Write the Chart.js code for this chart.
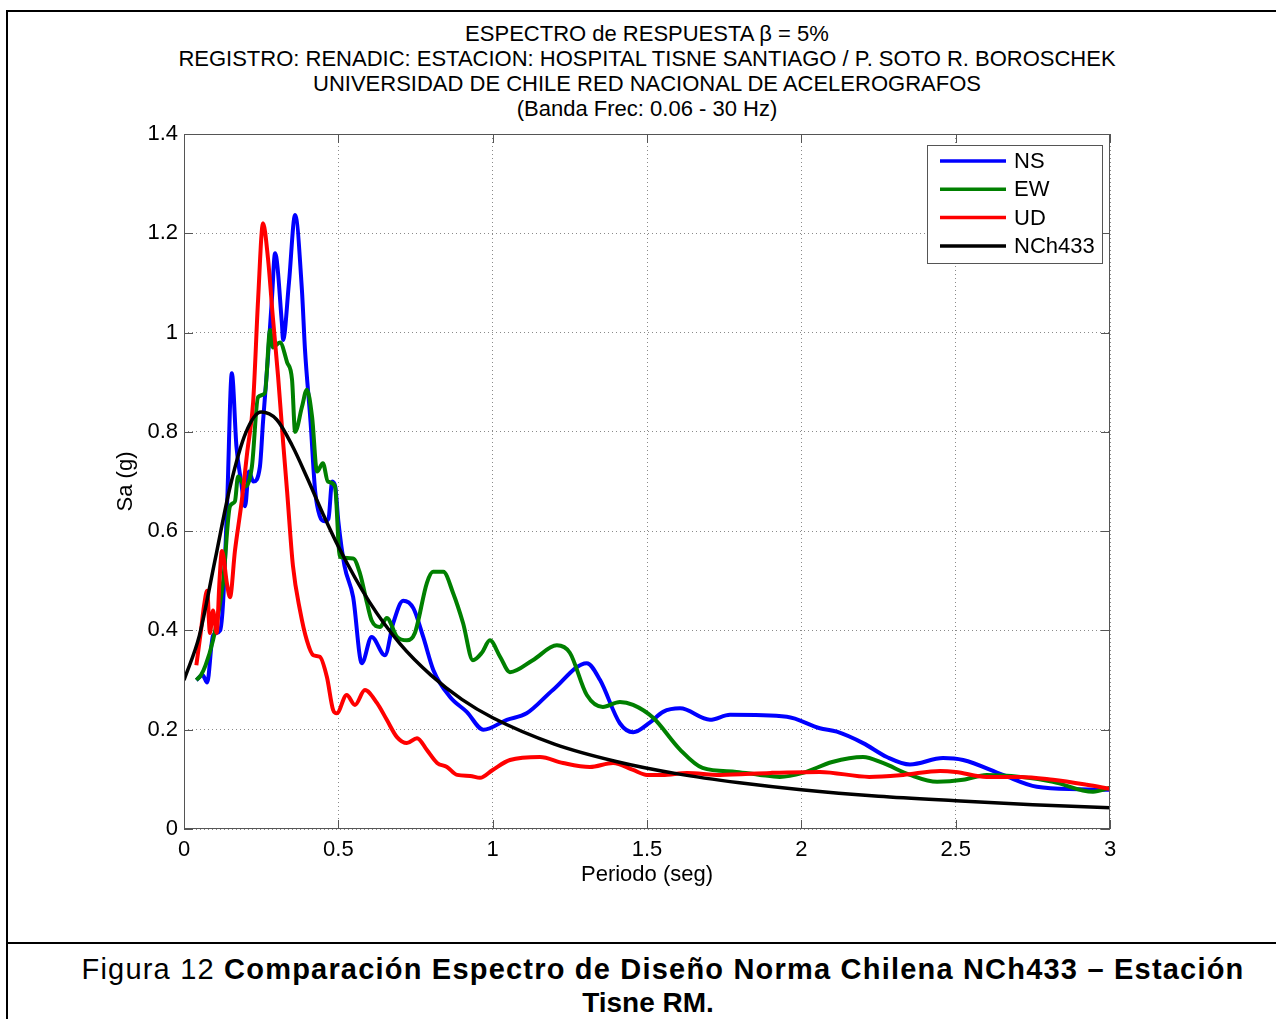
<!DOCTYPE html>
<html>
<head>
<meta charset="utf-8">
<title>Espectro de respuesta - Estación Tisne</title>
<script src="https://cdn.jsdelivr.net/npm/chart.js@4.4.1/dist/chart.umd.min.js"></script>
<style>
  body { margin: 0; background: #fff; font-family: "Liberation Sans", Arial, sans-serif; color: #000; }
  #page { position: relative; width: 1276px; height: 1019px; overflow: hidden; }
  .rule { position: absolute; background: #000; }
  #plot-title { position: absolute; left: 147px; width: 1000px; top: 21px; text-align: center; font-size: 22px; line-height: 25px; }
  #chart-box { position: absolute; left: 0; top: 0; width: 1276px; height: 940px; }
  #caption { position: absolute; left: 8px; width: 1280px; top: 953px; text-align: center; font-size: 28px; line-height: 33px; }
  #caption .first { position: relative; left: 15px; font-size: 29px; letter-spacing: 1.2px; }
</style>
</head>
<body>
<div id="page">
  <!-- page frame -->
  <div class="rule" style="left:6px; top:10px; right:0; height:2px;"></div>
  <div class="rule" style="left:6px; top:10px; width:2px; bottom:0;"></div>
  <div class="rule" style="left:6px; top:942px; right:0; height:2px;"></div>

  <div id="plot-title">
    ESPECTRO de RESPUESTA &beta; = 5%<br>
    REGISTRO: RENADIC: ESTACION: HOSPITAL TISNE SANTIAGO / P. SOTO R. BOROSCHEK<br>
    UNIVERSIDAD DE CHILE RED NACIONAL DE ACELEROGRAFOS<br>
    (Banda Frec: 0.06 - 30 Hz)
  </div>

  <div id="chart-box"><canvas id="spectrumChart" width="1276" height="940"></canvas></div>

  <div id="caption">
    <span class="first">Figura 12 <b>Comparación Espectro de Diseño Norma Chilena NCh433 – Estación</b></span><br>
    <b>Tisne RM.</b>
  </div>
</div>

<script>
// Periods (s) and spectral accelerations (g) for each component
const nsT = [0.04, 0.06, 0.075, 0.094, 0.117, 0.127, 0.14, 0.155, 0.17, 0.185, 0.198, 0.21, 0.225, 0.246, 0.256, 0.272, 0.285, 0.295, 0.317, 0.321, 0.34, 0.36, 0.382, 0.392, 0.41, 0.425, 0.44, 0.455, 0.468, 0.48, 0.49, 0.5, 0.52, 0.548, 0.576, 0.608, 0.651, 0.678, 0.71, 0.743, 0.775, 0.808, 0.862, 0.916, 0.97, 1.046, 1.11, 1.195, 1.305, 1.348, 1.412, 1.455, 1.51, 1.552, 1.607, 1.704, 1.769, 1.953, 2.06, 2.115, 2.2, 2.277, 2.352, 2.459, 2.524, 2.653, 2.763, 2.9, 3.0];
const nsSa = [0.30, 0.31, 0.295, 0.39, 0.40, 0.46, 0.66, 0.918, 0.77, 0.70, 0.65, 0.72, 0.70, 0.73, 0.82, 0.95, 1.07, 1.16, 1.02, 0.985, 1.10, 1.237, 1.086, 0.965, 0.82, 0.68, 0.63, 0.62, 0.625, 0.70, 0.69, 0.62, 0.53, 0.467, 0.334, 0.387, 0.35, 0.415, 0.46, 0.445, 0.387, 0.32, 0.266, 0.236, 0.20, 0.22, 0.233, 0.28, 0.334, 0.30, 0.213, 0.195, 0.215, 0.236, 0.243, 0.22, 0.23, 0.226, 0.203, 0.196, 0.173, 0.145, 0.13, 0.143, 0.139, 0.109, 0.085, 0.08, 0.079];

const ewT = [0.04, 0.055, 0.07, 0.094, 0.11, 0.127, 0.149, 0.165, 0.175, 0.198, 0.22, 0.24, 0.262, 0.279, 0.288, 0.311, 0.334, 0.35, 0.36, 0.382, 0.398, 0.415, 0.431, 0.45, 0.466, 0.489, 0.505, 0.548, 0.57, 0.593, 0.608, 0.635, 0.657, 0.69, 0.722, 0.748, 0.787, 0.807, 0.84, 0.872, 0.904, 0.936, 0.965, 0.991, 1.024, 1.056, 1.13, 1.208, 1.25, 1.305, 1.357, 1.412, 1.455, 1.52, 1.607, 1.68, 1.79, 1.866, 1.93, 2.005, 2.1, 2.2, 2.264, 2.352, 2.44, 2.524, 2.6, 2.71, 2.815, 2.945, 3.0];
const ewSa = [0.30, 0.31, 0.33, 0.38, 0.43, 0.50, 0.65, 0.66, 0.71, 0.69, 0.73, 0.87, 0.878, 1.005, 0.97, 0.98, 0.94, 0.905, 0.80, 0.85, 0.885, 0.83, 0.72, 0.737, 0.70, 0.69, 0.548, 0.545, 0.515, 0.455, 0.42, 0.407, 0.425, 0.387, 0.38, 0.395, 0.496, 0.518, 0.518, 0.475, 0.415, 0.34, 0.355, 0.38, 0.347, 0.316, 0.34, 0.37, 0.355, 0.27, 0.246, 0.256, 0.25, 0.224, 0.16, 0.123, 0.115, 0.109, 0.105, 0.113, 0.135, 0.145, 0.133, 0.109, 0.095, 0.099, 0.109, 0.105, 0.095, 0.075, 0.083];

const udT = [0.04, 0.055, 0.065, 0.075, 0.084, 0.094, 0.106, 0.115, 0.123, 0.139, 0.149, 0.165, 0.187, 0.205, 0.224, 0.24, 0.256, 0.272, 0.288, 0.305, 0.321, 0.334, 0.353, 0.376, 0.398, 0.419, 0.44, 0.463, 0.483, 0.495, 0.527, 0.554, 0.586, 0.625, 0.657, 0.69, 0.722, 0.755, 0.787, 0.82, 0.852, 0.885, 0.927, 0.959, 1.0, 1.056, 1.153, 1.228, 1.315, 1.39, 1.455, 1.5, 1.55, 1.63, 1.736, 1.9, 2.06, 2.22, 2.33, 2.45, 2.5, 2.6, 2.71, 2.815, 2.925, 3.0];
const udSa = [0.33, 0.40, 0.45, 0.48, 0.395, 0.44, 0.395, 0.50, 0.56, 0.495, 0.467, 0.56, 0.66, 0.76, 0.86, 1.066, 1.22, 1.15, 1.03, 0.91, 0.78, 0.68, 0.53, 0.44, 0.38, 0.35, 0.347, 0.306, 0.24, 0.233, 0.27, 0.25, 0.28, 0.254, 0.22, 0.185, 0.173, 0.183, 0.159, 0.133, 0.125, 0.109, 0.107, 0.103, 0.119, 0.139, 0.145, 0.133, 0.125, 0.133, 0.119, 0.109, 0.109, 0.113, 0.109, 0.113, 0.115, 0.105, 0.109, 0.117, 0.115, 0.105, 0.105, 0.099, 0.089, 0.081];

// NCh433 design spectrum
const nchT = [0, 0.05, 0.1, 0.15, 0.2, 0.25, 0.3, 0.35, 0.4, 0.45, 0.5, 0.6, 0.7, 0.8, 0.9, 1.0, 1.2, 1.4, 1.6, 1.8, 2.0, 2.25, 2.5, 2.75, 3.0];
const nchSa = [0.300, 0.390, 0.540, 0.691, 0.798, 0.840, 0.825, 0.773, 0.706, 0.635, 0.569, 0.458, 0.373, 0.310, 0.261, 0.224, 0.171, 0.136, 0.111, 0.093, 0.079, 0.066, 0.057, 0.049, 0.043];

const periodTicks = [0, 0.5, 1, 1.5, 2, 2.5, 3];
const saTicks = [0, 0.2, 0.4, 0.6, 0.8, 1, 1.2, 1.4];

const zip = (xs, ys) => xs.map((x, i) => ({ x, y: ys[i] }));

Chart.defaults.font.family = '"Liberation Sans", Arial, sans-serif';
Chart.defaults.font.size = 22;
Chart.defaults.color = '#000';

// box around the axes with inward tick marks on all four sides
const axesFrame = {
  id: 'axesFrame',
  afterDatasetsDraw(chart) {
    const { ctx, chartArea: a, scales: { x, y } } = chart;
    const len = 9;
    ctx.save();
    ctx.strokeStyle = '#555';
    ctx.lineWidth = 1;
    ctx.strokeRect(a.left + 0.5, a.top + 0.5, a.width - 1, a.height - 1);
    ctx.beginPath();
    x.ticks.forEach(t => {
      const px = Math.round(x.getPixelForValue(t.value)) + 0.5;
      ctx.moveTo(px, a.bottom); ctx.lineTo(px, a.bottom - len);
      ctx.moveTo(px, a.top); ctx.lineTo(px, a.top + len);
    });
    y.ticks.forEach(t => {
      const py = Math.round(y.getPixelForValue(t.value)) + 0.5;
      ctx.moveTo(a.left, py); ctx.lineTo(a.left + len, py);
      ctx.moveTo(a.right, py); ctx.lineTo(a.right - len, py);
    });
    ctx.stroke();
    ctx.restore();
  }
};

// legend box in the upper right corner of the axes
const boxLegend = {
  id: 'boxLegend',
  afterDraw(chart) {
    const { ctx, chartArea: a } = chart;
    const w = 175, h = 118;
    const left = a.right - 8 - w, top = a.top + 11;
    ctx.save();
    ctx.fillStyle = '#fff';
    ctx.fillRect(left, top, w, h);
    ctx.strokeStyle = '#555';
    ctx.lineWidth = 1;
    ctx.strokeRect(left + 0.5, top + 0.5, w, h);
    ctx.font = '22px "Liberation Sans", Arial, sans-serif';
    ctx.textBaseline = 'middle';
    chart.data.datasets.forEach((ds, i) => {
      const yy = top + 16 + i * 28.3;
      ctx.strokeStyle = ds.borderColor;
      ctx.lineWidth = 3.5;
      ctx.beginPath();
      ctx.moveTo(left + 13, yy);
      ctx.lineTo(left + 79, yy);
      ctx.stroke();
      ctx.fillStyle = '#000';
      ctx.fillText(ds.label, left + 87, yy + 1);
    });
    ctx.restore();
  }
};

const lineStyle = { pointRadius: 0, borderWidth: 4, fill: false, cubicInterpolationMode: 'monotone' };

new Chart(document.getElementById('spectrumChart'), {
  type: 'line',
  data: {
    datasets: [
      { label: 'NS', data: zip(nsT, nsSa), borderColor: '#0000ff', order: 3, ...lineStyle },
      { label: 'EW', data: zip(ewT, ewSa), borderColor: '#008000', order: 2, ...lineStyle },
      { label: 'UD', data: zip(udT, udSa), borderColor: '#ff0000', order: 1, ...lineStyle },
      { label: 'NCh433', data: zip(nchT, nchSa), borderColor: '#000000', order: 0, ...lineStyle, borderWidth: 3.5 }
    ]
  },
  options: {
    responsive: false,
    animation: false,
    layout: { padding: { left: 100, right: 166, top: 134, bottom: 49 } },
    plugins: { legend: { display: false }, tooltip: { enabled: false } },
    scales: {
      x: {
        type: 'linear',
        min: 0,
        max: 3,
        afterBuildTicks: s => { s.ticks = periodTicks.map(v => ({ value: v })); },
        afterFit: s => { s.height = 62; },
        ticks: { padding: 8, maxRotation: 0, callback: v => String(v) },
        grid: { color: '#8a8a8a', lineWidth: 1, drawTicks: false },
        border: { display: false, dash: [1, 3] },
        title: { display: true, text: 'Periodo (seg)', padding: { top: 0, bottom: 3 } }
      },
      y: {
        type: 'linear',
        min: 0,
        max: 1.4,
        afterBuildTicks: s => { s.ticks = saTicks.map(v => ({ value: v })); },
        afterFit: s => { s.width = 84; },
        ticks: { padding: 6, callback: v => String(v) },
        grid: { color: '#8a8a8a', lineWidth: 1, drawTicks: false },
        border: { display: false, dash: [1, 3] },
        title: { display: true, text: 'Sa (g)', padding: { top: 13, bottom: 0 } }
      }
    }
  },
  plugins: [axesFrame, boxLegend]
});
</script>
</body>
</html>
